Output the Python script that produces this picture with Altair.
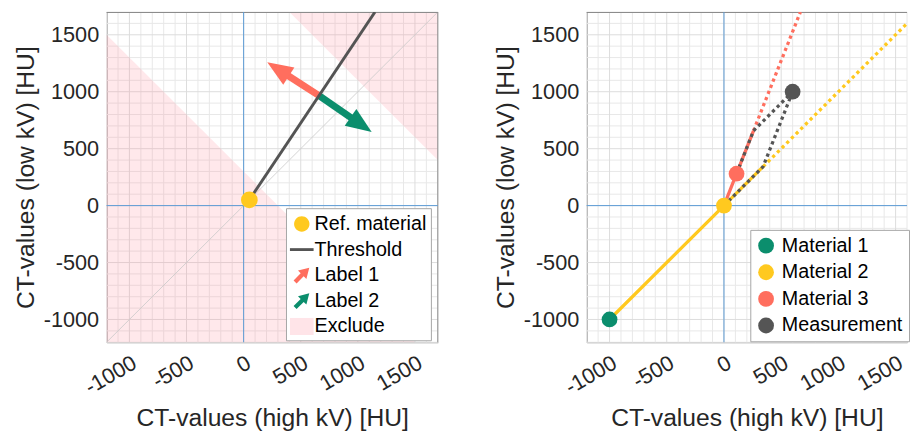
import math
import altair as alt
import pandas as pd

# ------------------------------------------------------------------ data
X_DOMAIN_L = [-1200, 1700]
X_DOMAIN_R = [-1200, 1600]
Y_DOMAIN = [-1200, 1700]
major_ticks = [-1000, -500, 0, 500, 1000, 1500]
minor_grid = [v for v in range(-1200, 1701, 100) if v % 500 != 0]

# left panel
ref_x = [50]
ref_y = [50]
thr_x = [50, 1150]
thr_y = [50, 1700]
diag_x = [-1200, 1700]
diag_y = [-1200, 1700]
excl_low_x = [-1200, 1500]
excl_low_y = [-1200, -1200]
excl_low_y2 = [1500, -1200]
excl_high_x = [400, 1700]
excl_high_y = [1700, 400]
excl_high_y2 = [1700, 1700]
arrow_names = ["Label 1", "Label 2"]
arrow_x0 = [660, 660]
arrow_y0 = [965, 965]
arrow_x1 = [207, 1121]
arrow_y1 = [1259, 647]

# right panel
mat_names = ["Material 1", "Material 2", "Material 3", "Measurement"]
mat_x = [-1000, 0, 110, 600]
mat_y = [-1000, 0, 280, 1000]
yel_solid_x = [-1000, 0, 342]
yel_solid_y = [-1000, 0, 342]
yel_dot_x = [342, 1700]
yel_dot_y = [342, 1700]
red_solid_x = [0, 110, 258]
red_solid_y = [0, 280, 657]
red_dot_x = [258, 668]
red_dot_y = [657, 1700]
gray1_x = [0, 342, 600]
gray1_y = [0, 342, 1000]
gray2_x = [110, 258, 600]
gray2_y = [280, 657, 1000]

# ------------------------------------------------------------------ style
FONT = "Liberation Sans"
GREEN = "#0B8E6D"
YELLOW = "#FFC91F"
RED = "#FF6E5E"
DARK = "#545454"
GRAY_M = "#555555"
PINK = "#FF8A9C"
PINK_LEG = "#FFE4E8"
BLUE = "#5B9BD5"
GRID_MIN = "#E8E8E8"
GRID_MAJ = "#DCDCDC"
FRAME = "#8A8A8A"
TXT = "#262626"

W1, W2, H = 336, 325, 335
HEAD_SIZE = 676
HEAD_LEN = 2 * math.sqrt(HEAD_SIZE) / 2
HEAD_PATH = "M0,0L-0.8,2L0.8,2Z"


def rot45(pts):
    c = s = math.sqrt(0.5)
    return [(x * c - y * s, x * s + y * c) for x, y in pts]


def to_path(pts):
    return "M" + "L".join(f"{x:.3f},{y:.3f}" for x, y in pts) + "Z"


LEG_CIRCLE = "M-0.65,0A0.65,0.65 0 1,0 0.65,0A0.65,0.65 0 1,0 -0.65,0Z"
LEG_LINE = "M-1,-0.12H1V0.12H-1Z"
LEG_ARROW = to_path(rot45([(0, -0.9), (0.5, -0.05), (0.18, -0.05), (0.18, 0.8),
                           (-0.18, 0.8), (-0.18, -0.05), (-0.5, -0.05)]))
LEG_RECT = "M-1,-0.72H1V0.72H-1Z"
legend_items = ["Ref. material", "Threshold", "Label 1", "Label 2", "Exclude"]
legend_colors = [YELLOW, DARK, RED, GREEN, PINK_LEG]
legend_shapes = [LEG_CIRCLE, LEG_LINE, LEG_ARROW, LEG_ARROW, LEG_RECT]


def make_axis(title, is_x):
    kw = dict(
        title=title, values=major_ticks, grid=False, ticks=False,
        domain=True, domainColor=FRAME, domainWidth=1,
        labelExpr="'' + datum.value",
        labelFont=FONT, labelFontSize=22, labelColor=TXT,
        titleFont=FONT, titleFontSize=25, titleFontWeight="normal",
        titleColor=TXT, labelOverlap=False, labelFlush=False,
    )
    if is_x:
        kw.update(labelAngle=330, labelPadding=10, titlePadding=8)
    else:
        kw.update(labelPadding=8, titlePadding=5)
    return alt.Axis(**kw)


XAX = make_axis("CT-values (high kV) [HU]", True)
YAX = make_axis("CT-values (low kV) [HU]", False)


def panel_encoders(xdom):
    xs = alt.Scale(domain=xdom, nice=False, zero=False)
    ys = alt.Scale(domain=Y_DOMAIN, nice=False, zero=False)

    def X(f):
        return alt.X(f, type="quantitative", scale=xs, axis=XAX)

    def Y(f):
        return alt.Y(f, type="quantitative", scale=ys, axis=YAX)
    return X, Y


def base_layers(xdom):
    X, Y = panel_encoders(xdom)
    xmin = [v for v in minor_grid if xdom[0] <= v <= xdom[1]]
    layers = [
        alt.Chart(pd.DataFrame({"v": xmin})).mark_rule(color=GRID_MIN, strokeWidth=1).encode(x=X("v")),
        alt.Chart(pd.DataFrame({"v": minor_grid})).mark_rule(color=GRID_MIN, strokeWidth=1).encode(y=Y("v")),
        alt.Chart(pd.DataFrame({"v": major_ticks})).mark_rule(color=GRID_MAJ, strokeWidth=1).encode(x=X("v")),
        alt.Chart(pd.DataFrame({"v": major_ticks})).mark_rule(color=GRID_MAJ, strokeWidth=1).encode(y=Y("v")),
    ]
    return X, Y, layers


def frame_layers(W, right_frame):
    one = pd.DataFrame({"a": [0]})
    ls = [
        alt.Chart(one).mark_rule(color=FRAME, strokeWidth=1).encode(
            x=alt.value(0.01), x2=alt.value(W), y=alt.value(0.5)),
    ]
    if right_frame:
        ls.append(alt.Chart(one).mark_rule(color=FRAME, strokeWidth=1).encode(
            x=alt.value(W), y=alt.value(0.01), y2=alt.value(H)))
    return ls


def zero_lines(X, Y):
    z = pd.DataFrame({"v": [0]})
    return [
        alt.Chart(z).mark_rule(color=BLUE, strokeWidth=1).encode(x=X("v")),
        alt.Chart(z).mark_rule(color=BLUE, strokeWidth=1).encode(y=Y("v")),
    ]


# ------------------------------------------------------------------ left panel
XL, YL, left_layers = base_layers(X_DOMAIN_L)

low = pd.DataFrame({"x": excl_low_x, "y": excl_low_y, "y2": excl_low_y2})
high = pd.DataFrame({"x": excl_high_x, "y": excl_high_y, "y2": excl_high_y2})
left_layers += [
    alt.Chart(low).mark_area(color=PINK, opacity=0.2).encode(
        x=XL("x"), y=YL("y"), y2=alt.Y2("y2")),
    alt.Chart(high).mark_area(color=PINK, opacity=0.2).encode(
        x=XL("x"), y=YL("y"), y2=alt.Y2("y2")),
    alt.Chart(pd.DataFrame({"x": diag_x, "y": diag_y})).mark_line(
        color="#C8C8C8", strokeWidth=0.8, clip=True).encode(x=XL("x"), y=YL("y")),
]
left_layers += frame_layers(W1, True)
left_layers += zero_lines(XL, YL)

pxx = W1 / (X_DOMAIN_L[1] - X_DOMAIN_L[0])
pxy = H / (Y_DOMAIN[1] - Y_DOMAIN[0])
for name, x0, y0, x1, y1, col in zip(arrow_names, arrow_x0, arrow_y0,
                                      arrow_x1, arrow_y1, [RED, GREEN]):
    dxp = (x1 - x0) * pxx
    dyp = (y1 - y0) * pxy
    lp = math.hypot(dxp, dyp)
    frac = (HEAD_LEN - 4) / lp
    ang = math.degrees(math.atan2(dxp, dyp)) % 360
    shaft = pd.DataFrame({"x": [x0], "y": [y0],
                          "x2": [x1 - (x1 - x0) * frac],
                          "y2": [y1 - (y1 - y0) * frac]})
    head = pd.DataFrame({"x": [x1], "y": [y1], "ang": [ang]})
    left_layers += [
        alt.Chart(shaft).mark_rule(color=col, strokeWidth=7, strokeCap="butt").encode(
            x=XL("x"), y=YL("y"), x2=alt.X2("x2"), y2=alt.Y2("y2")),
        alt.Chart(head).mark_point(shape=HEAD_PATH, filled=True, color=col,
                                   size=HEAD_SIZE, opacity=1, strokeWidth=0).encode(
            x=XL("x"), y=YL("y"), angle=alt.Angle("ang:Q", scale=None)),
    ]

left_layers += [
    alt.Chart(pd.DataFrame({"x": thr_x, "y": thr_y})).mark_line(
        color=DARK, strokeWidth=3, clip=True).encode(x=XL("x"), y=YL("y")),
    alt.Chart(pd.DataFrame({"x": ref_x, "y": ref_y})).mark_circle(
        color=YELLOW, size=289, opacity=1).encode(x=XL("x"), y=YL("y")),
]

leg_left = alt.Legend(
    title=None, orient="none", legendX=182, legendY=199,
    fillColor="white", strokeColor="#A6A6A6", padding=4,
    labelFont=FONT, labelFontSize=20, labelColor="black",
    labelOffset=1, rowPadding=4, symbolSize=576, symbolStrokeWidth=0,
    labelLimit=300,
)
left_layers.append(
    alt.Chart(pd.DataFrame({"item": legend_items})).transform_filter("false")
    .mark_point(filled=True, size=576, opacity=1, strokeWidth=0)
    .encode(
        color=alt.Color("item:N", scale=alt.Scale(domain=legend_items, range=legend_colors),
                        legend=leg_left),
        shape=alt.Shape("item:N", scale=alt.Scale(domain=legend_items, range=legend_shapes),
                        legend=leg_left),
    )
)

left = alt.layer(*left_layers).properties(width=W1, height=H)

# ------------------------------------------------------------------ right panel
XR, YR, right_layers = base_layers(X_DOMAIN_R)
right_layers += frame_layers(W2, False)
right_layers += zero_lines(XR, YR)


def line(xs, ys, col, dotted):
    kw = dict(color=col, strokeWidth=3.3, clip=True, strokeCap="butt")
    if dotted:
        kw["strokeDash"] = [3.3, 3.4]
    df = pd.DataFrame({"x": xs, "y": ys, "o": list(range(len(xs)))})
    return alt.Chart(df).mark_line(**kw).encode(x=XR("x"), y=YR("y"), order="o:Q")


right_layers += [
    line(yel_dot_x, yel_dot_y, YELLOW, True),
    line(red_dot_x, red_dot_y, RED, True),
    line(yel_solid_x, yel_solid_y, YELLOW, False),
    line(red_solid_x, red_solid_y, RED, False),
    line(gray1_x, gray1_y, GRAY_M, True),
    line(gray2_x, gray2_y, GRAY_M, True),
]

mats = pd.DataFrame({"material": mat_names, "x": mat_x, "y": mat_y})
leg_right = alt.Legend(
    title=None, orient="none", legendX=166, legendY=221,
    fillColor="white", strokeColor="#A6A6A6", padding=6,
    labelFont=FONT, labelFontSize=20, labelColor="black",
    labelOffset=6, rowPadding=7, symbolSize=256, symbolType="circle",
    symbolStrokeWidth=0, labelLimit=300,
)
right_layers.append(
    alt.Chart(mats).mark_circle(size=256, opacity=1).encode(
        x=XR("x"), y=YR("y"),
        color=alt.Color("material:N", sort=mat_names,
                        scale=alt.Scale(domain=mat_names, range=[GREEN, YELLOW, RED, GRAY_M]),
                        legend=leg_right),
    )
)

right = alt.layer(*right_layers).properties(width=W2, height=H)

chart = (
    alt.hconcat(left, right, spacing=151, bounds="flush")
    .resolve_scale(color="independent", shape="independent", x="independent", y="independent")
    .properties(padding={"left": 5, "top": 0, "right": 0, "bottom": 0})
    .configure(padding={"left": 5, "top": 0, "right": 0, "bottom": 0})
    .configure_view(stroke="transparent")
)

chart.save("out.html", embed_options={"renderer": "svg", "actions": False})
